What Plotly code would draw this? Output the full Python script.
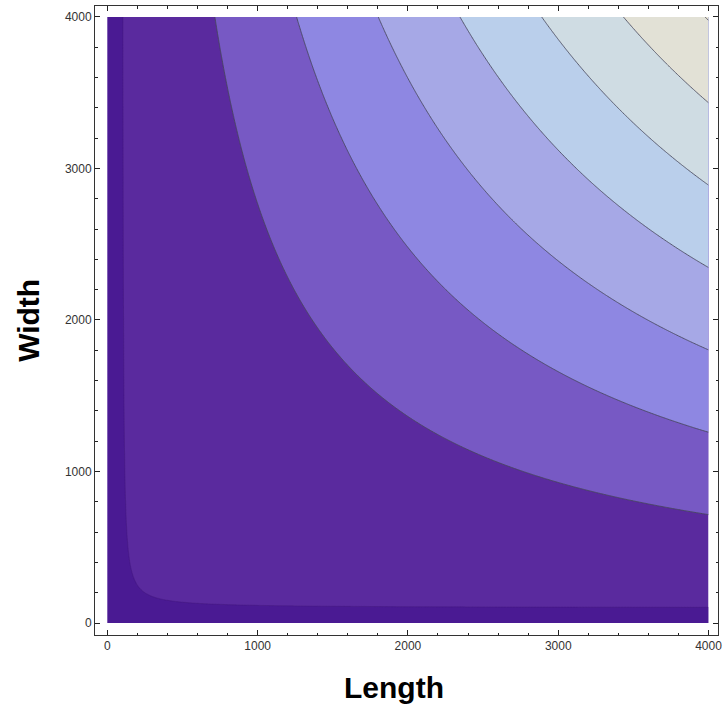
import numpy as np
import plotly.graph_objects as go

# Grid of plate dimensions
length_vals = np.arange(0, 4001, 10)
width_vals = np.arange(0, 4001, 10)
edge_offset = 100  # usable dimension starts past this edge allowance

# Contour levels of the surface (usable area)
inner_level = 15_000
first_level = 2_400_000
level_step = 2_120_000
last_level = 15_120_000

# Band colours, darkest to lightest
band_colors = [
    "#5A2A9E", "#7759C4", "#8E87E2", "#A6A8E6",
    "#BACFEB", "#CFDCE3", "#E2E1D6", "#ECE8D6",
]
edge_color = "#4A1A93"

tick_vals = [0, 1000, 2000, 3000, 4000]
tick_text = ["0", "1000", "2000", "3000", "4000"]

L, W = np.meshgrid(length_vals, width_vals)
usable = (L - edge_offset) * (W - edge_offset)

# Stepwise colour scale so each band gets one flat colour
n = len(band_colors)
scale = []
for i, c in enumerate(band_colors):
    scale.append([i / n, c])
    scale.append([(i + 1) / n, c])

line_style = dict(color="rgba(70,70,90,0.85)", width=1, smoothing=1)

fig = go.Figure()
fig.add_trace(go.Contour(
    x=length_vals, y=width_vals, z=usable,
    contours=dict(start=first_level, end=last_level, size=level_step,
                  coloring="fill"),
    colorscale=scale,
    zmin=first_level - level_step, zmax=last_level + level_step,
    line=line_style,
    showscale=False, hoverinfo="skip",
))
# Thin strip near the edges where almost nothing is usable
# (sign flipped so the strip is the upper band and the rest stays clear)
fig.add_trace(go.Contour(
    x=length_vals, y=width_vals, z=-usable,
    contours=dict(start=-inner_level, end=-inner_level, size=10_000,
                  coloring="fill"),
    colorscale=[[0, "rgba(0,0,0,0)"], [0.5, "rgba(0,0,0,0)"],
                [0.5, edge_color], [1, edge_color]],
    zmin=-inner_level - 10_000, zmax=-inner_level + 10_000,
    line=dict(color="rgba(60,20,110,0.5)", width=0.6, smoothing=1),
    showscale=False, hoverinfo="skip",
))

axis_common = dict(
    tickvals=tick_vals, ticktext=tick_text,
    ticks="inside", ticklen=5, tickwidth=1, tickcolor="#222",
    minor=dict(dtick=200, ticks="inside", ticklen=2.5, tickwidth=1,
               tickcolor="#222"),
    showline=True, linecolor="#333", linewidth=1, mirror="allticks",
    showgrid=False, zeroline=False,
    tickfont=dict(family="Arial, Liberation Sans", size=12, color="#333"),
)

fig.update_layout(
    width=727, height=709,
    margin=dict(l=95, r=5, t=5, b=74),
    paper_bgcolor="white", plot_bgcolor="white",
    xaxis=dict(range=[-82, 4063], **axis_common),
    yaxis=dict(range=[-79, 4072], **axis_common),
    showlegend=False,
    annotations=[
        dict(text="Length", xref="paper", yref="paper", x=0.48, y=-0.084,
             xanchor="center", yanchor="middle", showarrow=False,
             font=dict(family="Arial, Liberation Sans", size=30,
                       color="black", weight="bold")),
        dict(text="Width", xref="paper", yref="paper", x=-0.107, y=0.5,
             xanchor="center", yanchor="middle", showarrow=False,
             textangle=-90,
             font=dict(family="Arial, Liberation Sans", size=30,
                       color="black", weight="bold")),
    ],
)

fig.write_html("out.html")
